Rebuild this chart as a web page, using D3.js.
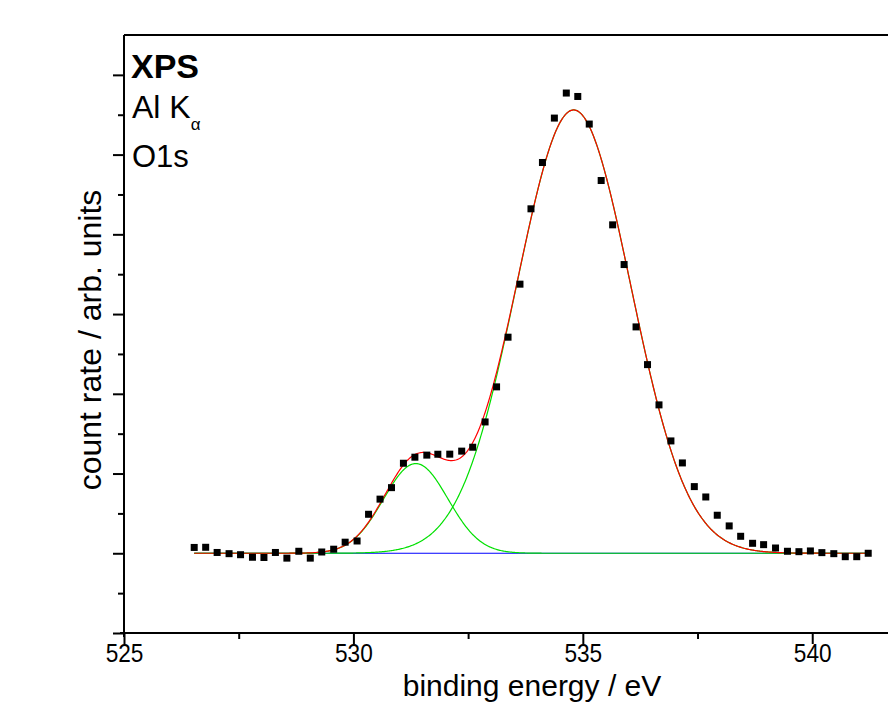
<!DOCTYPE html>
<html>
<head>
<meta charset="utf-8">
<script src="https://cdn.jsdelivr.net/npm/d3@7"></script>
<style>
  html, body { margin: 0; padding: 0; background: #fff; }
  svg { display: block; overflow: hidden; }
  text { font-family: "Liberation Sans", Arial, sans-serif; fill: #000; }
</style>
</head>
<body>
<div id="chart"></div>
<script>
// measured O1s spectrum (binding energy in eV, counts in arb. units)
const energy = [526.53, 526.78, 527.03, 527.29, 527.54, 527.80, 528.05, 528.30, 528.55, 528.81,
  529.06, 529.31, 529.57, 529.82, 530.08, 530.33, 530.58, 530.83, 531.09, 531.34,
  531.60, 531.84, 532.10, 532.36, 532.60, 532.87, 533.12, 533.37, 533.63, 533.87,
  534.12, 534.38, 534.64, 534.89, 535.14, 535.40, 535.65, 535.90, 536.16, 536.41,
  536.66, 536.92, 537.17, 537.43, 537.68, 537.93, 538.19, 538.44, 538.70, 538.94,
  539.20, 539.46, 539.71, 539.96, 540.21, 540.47, 540.72, 540.97, 541.22];
const counts = [1073, 1075, 1010, 995, 982, 950, 947, 1010, 939, 1025,
  939, 1016, 1051, 1139, 1154, 1489, 1679, 1823, 2129, 2205,
  2231, 2242, 2243, 2281, 2330, 2647, 3087, 3710, 4375, 5320,
  5901, 6458, 6772, 6729, 6383, 5675, 5119, 4621, 3839, 3366,
  2861, 2409, 2133, 1836, 1706, 1477, 1343, 1213, 1125, 1108,
  1066, 1025, 1020, 1029, 1008, 995, 957, 957, 1000];

// fit: flat background + two gaussian components
const background = 1000;
const peakCenters = [531.36, 534.80];
const peakHeights = [1125, 5560];
const peakFwhm = [1.65, 2.92];

const xMajorTicks = [525, 530, 535, 540];
const xMinorTicks = [527.5, 532.5, 537.5];
const yMajorTicks = [0, 1000, 2000, 3000, 4000, 5000, 6000, 7000];
const yMinorTicks = [500, 1500, 2500, 3500, 4500, 5500, 6500];

const width = 888, height = 703;
const plot = { left: 124, top: 35, right: 904, bottom: 633 };

const svg = d3.select("#chart").append("svg")
  .attr("width", width)
  .attr("height", height);

const x = d3.scaleLinear().domain([525, 542]).range([plot.left, plot.right]);
const y = d3.scaleLinear().domain([0, 7500]).range([plot.bottom, plot.top]);

function gauss(e, i) {
  const s = peakFwhm[i] / (2 * Math.sqrt(2 * Math.log(2)));
  return peakHeights[i] * Math.exp(-((e - peakCenters[i]) ** 2) / (2 * s * s));
}

const eRange = d3.extent(energy);
const grid = d3.range(eRange[0], eRange[1] + 0.001, 0.02);

const line = d3.line().x((d) => x(d[0])).y((d) => y(d[1]));

// background
svg.append("path")
  .attr("d", line(grid.map((e) => [e, background])))
  .attr("fill", "none")
  .attr("stroke", "#0000ff")
  .attr("stroke-width", 1.2);

// components
peakCenters.forEach((c, i) => {
  svg.append("path")
    .attr("d", line(grid.map((e) => [e, background + gauss(e, i)])))
    .attr("fill", "none")
    .attr("stroke", "#00e000")
    .attr("stroke-width", 1.2);
});

// envelope
svg.append("path")
  .attr("d", line(grid.map((e) => [e, background + gauss(e, 0) + gauss(e, 1)])))
  .attr("fill", "none")
  .attr("stroke", "#ff0000")
  .attr("stroke-width", 1.2);

// data points
svg.append("g")
  .selectAll("rect")
  .data(energy.map((e, i) => ({ e, c: counts[i] })))
  .join("rect")
  .attr("x", (d) => x(d.e) - 3.5)
  .attr("y", (d) => y(d.c) - 3.5)
  .attr("width", 7)
  .attr("height", 7)
  .attr("fill", "#000");

// axes
const xAxis = svg.append("g").attr("transform", `translate(0,${plot.bottom})`);
xAxis.call(d3.axisBottom(x).tickValues(xMajorTicks).tickSize(11).tickSizeOuter(0).tickPadding(0));
xAxis.append("g").call(d3.axisBottom(x).tickValues(xMinorTicks).tickSize(6).tickFormat(""))
  .select(".domain").remove();
xAxis.selectAll(".domain").attr("stroke-width", 2).attr("d", `M${plot.left - 4},0H${width}`);
xAxis.selectAll(".tick line").attr("stroke-width", 2);
xAxis.selectAll(".tick text")
  .attr("font-size", 26)
  .attr("font-family", "Liberation Sans, Arial, sans-serif")
  .attr("transform", "scale(0.87,1)");

const yAxis = svg.append("g").attr("transform", `translate(${plot.left},0)`);
yAxis.call(d3.axisLeft(y).tickValues(yMajorTicks).tickSize(11).tickSizeOuter(0).tickFormat(""));
yAxis.append("g").call(d3.axisLeft(y).tickValues(yMinorTicks).tickSize(6).tickFormat(""))
  .select(".domain").remove();
yAxis.selectAll(".domain").attr("stroke-width", 2).attr("d", `M0,${plot.top}V${plot.bottom + 4}`);
yAxis.selectAll(".tick line").attr("stroke-width", 2);

// top frame
svg.append("line")
  .attr("x1", plot.left).attr("x2", width)
  .attr("y1", plot.top).attr("y2", plot.top)
  .attr("stroke", "#000").attr("stroke-width", 2);

// axis titles
svg.append("text")
  .attr("x", 532).attr("y", 696)
  .attr("text-anchor", "middle")
  .attr("font-size", 30)
  .text("binding energy / eV");

svg.append("text")
  .attr("transform", `translate(101,${340}) rotate(-90)`)
  .attr("text-anchor", "middle")
  .attr("font-size", 32)
  .text("count rate / arb. units");

// annotation
svg.append("text")
  .attr("x", 131).attr("y", 78)
  .attr("font-size", 34)
  .attr("font-weight", "bold")
  .text("XPS");

const alk = svg.append("text")
  .attr("x", 132).attr("y", 118)
  .attr("font-size", 32);
alk.append("tspan").text("Al K");
alk.append("tspan").attr("font-size", 17).attr("dy", 12).text("α");

svg.append("text")
  .attr("x", 132).attr("y", 167)
  .attr("font-size", 31)
  .text("O1s");
</script>
</body>
</html>
